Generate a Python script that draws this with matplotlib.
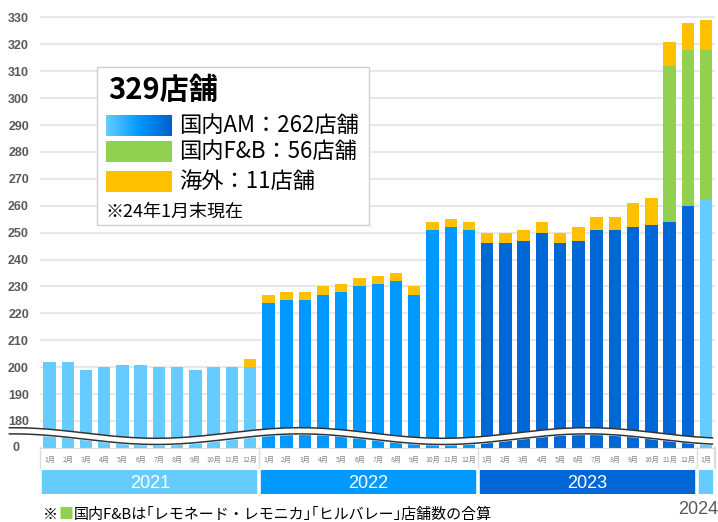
import numpy as np
import matplotlib
matplotlib.use("Agg")
import matplotlib.pyplot as plt
from matplotlib.patches import Rectangle
from matplotlib.colors import LinearSegmentedColormap
from matplotlib.transforms import blended_transform_factory

plt.rcParams['font.family'] = ['Noto Sans CJK JP', 'DejaVu Sans']

# --- datos ---
years = ["2021", "2022", "2023", "2024"]
year_months = [12, 12, 12, 1]
am = [202, 202, 199, 200, 201, 201, 200, 200, 199, 200, 200, 200,
      224, 225, 225, 227, 228, 230, 231, 232, 227, 251, 252, 251,
      246, 246, 247, 250, 246, 247, 251, 251, 252, 253, 254, 260,
      262]
fb = [0] * 34 + [58, 58, 56]
overseas = [0] * 11 + [3] * 13 + [4, 4, 4, 4, 4, 5, 5, 5, 9, 10, 9, 10, 11]
month_labels = [f"{m}月" for n in year_months for m in range(1, n + 1)]
ytick_vals = [180, 190, 200, 210, 220, 230, 240, 250, 260, 270, 280, 290, 300, 310, 320, 330]

year_colors = ["#66CCFF", "#0099FF", "#0068D6", "#66CCFF"]
GREEN = "#92D050"
YELLOW = "#FFC000"
GRAY = "#595959"

# eje con corte: 0-180 comprimido
def fwd(v):
    v = np.asarray(v, dtype=float)
    return np.where(v < 180, v / 18.0, v - 170.0)

def inv(t):
    t = np.asarray(t, dtype=float)
    return np.where(t < 10, t * 18.0, t + 170.0)

W, H = 718, 522
fx = lambda x: x / W
fy = lambda y: 1 - y / H

fig = plt.figure(figsize=(7.18, 5.22), dpi=100)
ax = fig.add_axes([fx(40), fy(447.9), 675 / W, (447.9 - 14.8) / H])
ax.set_yscale('function', functions=(fwd, inv))

x = np.arange(len(am))
colors = []
for c, n in zip(year_colors, year_months):
    colors += [c] * n
am_a = np.array(am)
fb_a = np.array(fb)
ov_a = np.array(overseas)

ax.bar(x, am_a, width=0.68, color=colors, zorder=2)
ax.bar(x, fb_a, width=0.68, bottom=am_a, color=GREEN, zorder=2)
ax.bar(x, ov_a, width=0.68, bottom=am_a + fb_a, color=YELLOW, zorder=2)

ax.set_xlim(-0.52, len(am) - 0.51)
ax.set_ylim(0, 331)

for v in ytick_vals:
    ax.axhline(v, color="#E8E8E8", lw=1.5, zorder=0)

ax.set_yticks(ytick_vals)
ax.set_yticklabels([str(v) for v in ytick_vals], fontfamily="Liberation Sans",
                   fontweight="bold", fontsize=9, color=GRAY)
ax.tick_params(axis='y', length=0, pad=8)
ax.text(-0.03, 0, "0", transform=blended_transform_factory(ax.transAxes, ax.transData),
        ha="right", va="center", fontfamily="Liberation Sans", fontweight="bold",
        fontsize=9, color=GRAY)

ax.set_xticks(x)
ax.set_xticklabels(month_labels, fontsize=5, color="#808080")
ax.tick_params(axis='x', length=0, pad=6)
for s in ["top", "right", "left"]:
    ax.spines[s].set_visible(False)
ax.spines["bottom"].set_color("#DDDDDD")

# separadores de año bajo el eje
bt = blended_transform_factory(ax.transData, fig.transFigure)
edges = np.cumsum([0] + year_months) - 0.5
edges[0] = -0.52
for e in list(edges) + [len(am) - 0.55]:
    ax.plot([e, e], [fy(447), fy(468)], color="#DDDDDD", lw=1, transform=bt, clip_on=False)

# linea de corte ondulada
xs = np.linspace(-2.2, 36.35, 400)
up_t = 5.54 + 1.97 * np.cos(2 * np.pi * (xs - 13.73) / 15.73)
lo_t = up_t - 2.3
ax.fill_between(xs, inv(lo_t), inv(up_t), color="white", zorder=5, clip_on=False)
ax.plot(xs, inv(up_t), color="#333333", lw=1.1, zorder=6, clip_on=False)
ax.plot(xs, inv(lo_t), color="#333333", lw=1.1, zorder=6, clip_on=False)

# bandas de año
axy = fig.add_axes([fx(40), fy(494), 675 / W, 24 / H])
axy.set_xlim(ax.get_xlim())
axy.set_ylim(0, 1)
axy.axis("off")
start = 0
for yr, n, c in zip(years, year_months, year_colors):
    axy.axvspan(start - 0.4, start + n - 1 + 0.35, color=c)
    if yr != "2024":
        axy.text(start + (n - 1) / 2, 0.45, yr, color="white", ha="center", va="center",
                 fontsize=13, fontfamily="Liberation Sans")
    start += n
fig.text(1.0, fy(509), "2024", ha="right", va="center", fontsize=13,
         fontfamily="Liberation Sans", color=GRAY)

# cuadro de leyenda
fig.patches.append(Rectangle((fx(96.7), fy(225)), (369.3 - 96.7) / W, (225 - 66.7) / H,
                             transform=fig.transFigure, facecolor="white",
                             edgecolor="#D0D0D0", lw=1, zorder=10))
fig.text(fx(108), fy(90), "329店舗", fontsize=21, fontweight="bold", va="center", zorder=11)

cmap = LinearSegmentedColormap.from_list("g", ["#66CCFF", "#0099FF", "#0060CC"])
axg = fig.add_axes([fx(106), fy(136), 65.7 / W, 21 / H])
axg.imshow(np.linspace(0, 1, 100)[None, :], aspect="auto", cmap=cmap)
axg.axis("off")
axg.set_zorder(12)
fig.patches.append(Rectangle((fx(106), fy(162)), 65.7 / W, 21 / H, transform=fig.transFigure,
                             facecolor=GREEN, lw=0, zorder=11))
fig.patches.append(Rectangle((fx(106), fy(192)), 65.7 / W, 21.5 / H, transform=fig.transFigure,
                             facecolor=YELLOW, lw=0, zorder=11))
fig.text(fx(179), fy(126), "国内AM：262店舗", fontsize=16, va="center", zorder=11)
fig.text(fx(179), fy(152), "国内F&B：56店舗", fontsize=16, va="center", zorder=11)
fig.text(fx(179), fy(181), "海外：11店舗", fontsize=16, va="center", zorder=11)
fig.text(fx(106), fy(212), "※24年1月末現在", fontsize=13, va="center", zorder=11)

# nota al pie
fig.text(fx(43), fy(515), "※", fontsize=10.8, va="center")
fig.text(fx(59), fy(515), "■", fontsize=10.8, va="center", color=GREEN)
fig.text(fx(74), fy(515), "国内F&Bは｢レモネード・レモニカ｣｢ヒルバレー｣店舗数の合算",
         fontsize=10.8, va="center")

fig.savefig("out.png", dpi=100)
